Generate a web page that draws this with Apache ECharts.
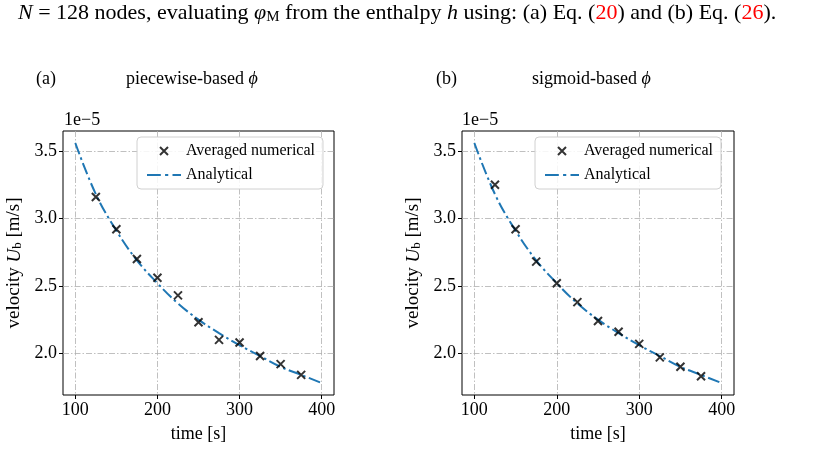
<!DOCTYPE html>
<html>
<head>
<meta charset="utf-8">
<script src="https://cdn.jsdelivr.net/npm/echarts@6/dist/echarts.min.js"></script>
<style>
  html, body { margin: 0; background: #ffffff; }
  #chart { width: 837px; height: 450px; }
</style>
</head>
<body>
<div id="chart"></div>
<script>
// tick positions
const timeTicks = [100, 200, 300, 400]
const velTicks = [2.0, 2.5, 3.0, 3.5]

// averaged numerical results (velocity in units of 1e-5 m/s)
const numTime = [125, 150, 175, 200, 225, 250, 275, 300, 325, 350, 375]
const numPiecewise = [3.16, 2.92, 2.70, 2.56, 2.43, 2.23, 2.10, 2.08, 1.98, 1.92, 1.84]
const numSigmoid = [3.25, 2.92, 2.68, 2.52, 2.38, 2.24, 2.16, 2.07, 1.97, 1.90, 1.83]

// analytical curve
const anaTime = [100, 125, 150, 175, 200, 225, 250, 275, 300, 325, 350, 375, 400]
const anaVel = [3.56, 3.18, 2.91, 2.69, 2.52, 2.37, 2.25, 2.15, 2.06, 1.98, 1.90, 1.84, 1.78]

const serif = 'Liberation Serif'
const crossPath = 'path://M0,0L10,10M10,0L0,10'
const dashDotPath = 'path://M0,0h13v2h-13zM17,0h3v2h-3zM24,0h8v2h-8z'

let myChart = echarts.init(document.getElementById('chart'))

function pairs(xs, ys) {
  return xs.map((x, i) => [x, ys[i]])
}

function xAxisFor(idx) {
  return {
    type: 'value', gridIndex: idx, min: 85, max: 415,
    axisLine: { show: false },
    axisTick: { show: true, length: 4, customValues: timeTicks, lineStyle: { color: '#000' } },
    axisLabel: { customValues: timeTicks, fontSize: 18, fontFamily: serif, color: '#000', margin: 6 },
    splitLine: { show: true, lineStyle: { color: '#b0b0b0', width: 0.8, type: [6, 2, 1.5, 2] } },
    name: 'time [s]', nameLocation: 'middle', nameGap: 30,
    nameTextStyle: { fontSize: 18, fontFamily: serif, color: '#000' }
  }
}

function yAxisFor(idx) {
  return {
    type: 'value', gridIndex: idx, min: 1.691, max: 3.649,
    axisLine: { show: false },
    axisTick: { show: true, length: 4, customValues: velTicks, lineStyle: { color: '#000' } },
    axisLabel: {
      customValues: velTicks, fontSize: 18, fontFamily: serif, color: '#000', margin: 6,
      formatter: v => v.toFixed(1)
    },
    splitLine: { show: true, lineStyle: { color: '#b0b0b0', width: 0.8, type: [6, 2, 1.5, 2] } },
    name: '{n|velocity }{u|U}{s|b}{n| [m/s]}', nameLocation: 'middle', nameGap: 39,
    nameTextStyle: {
      fontSize: 19, fontFamily: serif, color: '#000',
      rich: {
        n: { fontSize: 19, fontFamily: serif },
        u: { fontSize: 19, fontFamily: serif, fontStyle: 'italic' },
        s: { fontSize: 13, fontFamily: serif, verticalAlign: 'bottom', padding: [6, 0, 0, 0] }
      }
    }
  }
}

function legendFor(left) {
  return {
    left: left, top: 137, orient: 'vertical',
    data: [
      { name: 'Averaged numerical', icon: crossPath },
      { name: 'Analytical', icon: dashDotPath }
    ],
    backgroundColor: 'rgba(255,255,255,0.85)',
    borderColor: '#d0d0d0', borderWidth: 1, borderRadius: 4,
    padding: [6, 8, 6, 10], itemGap: 8, itemWidth: 34, itemHeight: 8,
    textStyle: { fontSize: 16, fontFamily: serif, color: '#000' }
  }
}

function seriesFor(idx, values) {
  return [
    {
      name: 'Averaged numerical', type: 'scatter', xAxisIndex: idx, yAxisIndex: idx,
      data: pairs(numTime, values), symbol: crossPath, symbolSize: 8, z: 5,
      itemStyle: { color: '#000', borderColor: '#000', borderWidth: 2 }
    },
    {
      name: 'Analytical', type: 'line', xAxisIndex: idx, yAxisIndex: idx,
      data: pairs(anaTime, anaVel), smooth: 0.4, symbol: 'none',
      lineStyle: { color: '#1f77b4', width: 2, type: [12, 3.5, 2.5, 3.5] },
      itemStyle: { color: '#1f77b4', borderWidth: 0 }
    }
  ]
}

var option = {
  backgroundColor: '#ffffff',
  animation: false,
  grid: [
    { left: 63, top: 131, width: 271, height: 264, show: true, borderColor: '#000', borderWidth: 1, backgroundColor: 'transparent' },
    { left: 462, top: 131, width: 272, height: 264, show: true, borderColor: '#000', borderWidth: 1, backgroundColor: 'transparent' }
  ],
  xAxis: [xAxisFor(0), xAxisFor(1)],
  yAxis: [yAxisFor(0), yAxisFor(1)],
  legend: [legendFor(137), legendFor(535)],
  series: seriesFor(0, numPiecewise).concat(seriesFor(1, numSigmoid)),
  graphic: [
    {
      type: 'text', left: 18, top: 2,
      style: {
        text: '{i|N} = 128 nodes, evaluating {i|φ}{s|M} from the enthalpy {i|h} using: (a) Eq. ({r|20}) and (b) Eq. ({r|26}).',
        font: '22px "Liberation Serif"', fill: '#000',
        rich: {
          i: { fontStyle: 'italic', fontSize: 22, fontFamily: serif },
          r: { fill: '#ff0000', fontSize: 22, fontFamily: serif },
          s: { fontSize: 15, fontFamily: serif, padding: [9, 0, 0, 0] }
        }
      }
    },
    { type: 'text', left: 36, top: 70, style: { text: '(a)', font: '18px "Liberation Serif"', fill: '#000' } },
    {
      type: 'text', left: 126, top: 70,
      style: { text: 'piecewise-based {i|ϕ}', font: '18px "Liberation Serif"', fill: '#000',
        rich: { i: { fontStyle: 'italic', fontSize: 18, fontFamily: serif } } }
    },
    { type: 'text', left: 436, top: 70, style: { text: '(b)', font: '18px "Liberation Serif"', fill: '#000' } },
    {
      type: 'text', left: 532, top: 70,
      style: { text: 'sigmoid-based {i|ϕ}', font: '18px "Liberation Serif"', fill: '#000',
        rich: { i: { fontStyle: 'italic', fontSize: 18, fontFamily: serif } } }
    },
    { type: 'text', left: 64, top: 111, style: { text: '1e−5', font: '18px "Liberation Serif"', fill: '#000' } },
    { type: 'text', left: 462, top: 111, style: { text: '1e−5', font: '18px "Liberation Serif"', fill: '#000' } }
  ]
}

myChart.setOption(option)
</script>
</body>
</html>
